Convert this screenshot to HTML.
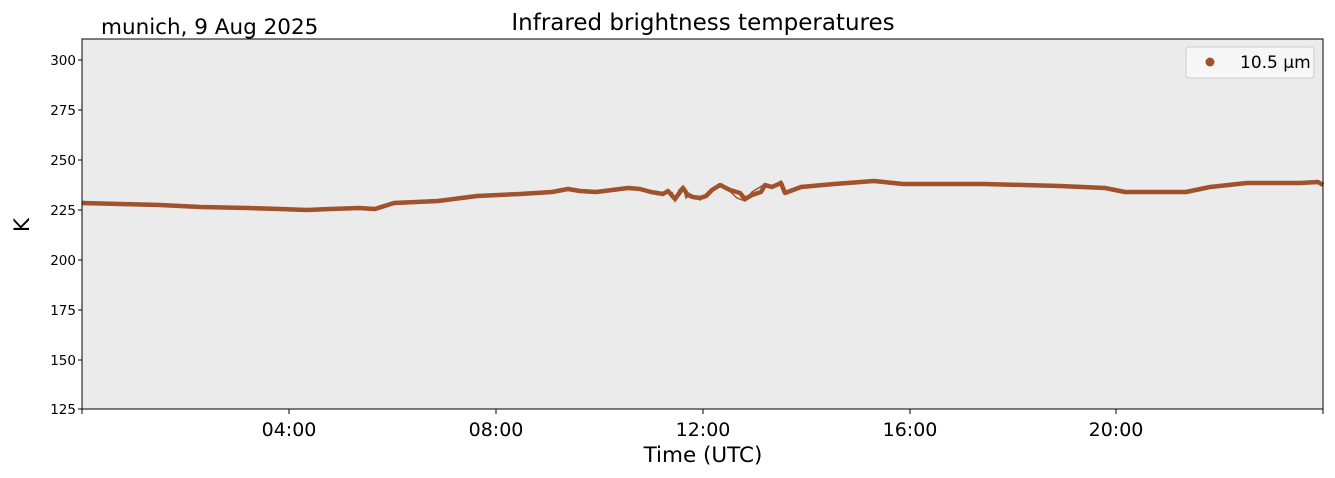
<!DOCTYPE html>
<html><head><meta charset="utf-8"><style>body{margin:0;background:#fff}svg{display:block}</style></head><body>
<svg width="1335" height="478" xmlns="http://www.w3.org/2000/svg" font-family="'DejaVu Sans','Liberation Sans',sans-serif">
<rect width="1335" height="478" fill="#fff"/>
<rect x="82" y="39" width="1241" height="370" fill="#ebebeb"/>
<polyline fill="none" stroke="#a0522d" stroke-width="4.5" stroke-linejoin="round" points="82,203 120,204 160,205 201,207 248,208 280,209 307,210 330,209 359,208 375,209 394,203 438,201 477,196 520,194 552,192 568,189 580,191 596,192 612,190 628,188 640,189 651,192 663,194 668,191 675,199 683,188 688,195 693,197 700,198 706,196 712,190 720,185 730,190 740,193 745,199 752,195 761,192 765,185 772,187 781,183 785,193 801,187 834,184 874,181 903,184 984,184 1024,185 1060,186 1105,188 1125,192 1186,192 1210,187 1247,183 1300,183 1318,182 1323,185"/>
<polyline fill="none" stroke="#a0522d" stroke-width="1.5" points="672,192 675,201 679,190 683,186 686,198 690,194 700,200 712,189 722,184 737,198 745,201 752,192 765,184 770,188 781,181 786,194 792,190"/>
<rect x="82" y="39" width="1241" height="370" fill="none" stroke="#000" stroke-width="1"/>
<g font-size="13.5" text-anchor="end" fill="#000">
<text x="76" y="65">300</text><text x="76" y="115">275</text><text x="76" y="165">250</text><text x="76" y="215">225</text><text x="76" y="265">200</text><text x="76" y="315">175</text><text x="76" y="365">150</text><text x="76" y="414">125</text>
</g>
<g stroke="#000"><line x1="78" x2="82" y1="60" y2="60"/><line x1="78" x2="82" y1="110" y2="110"/><line x1="78" x2="82" y1="160" y2="160"/><line x1="78" x2="82" y1="210" y2="210"/><line x1="78" x2="82" y1="260" y2="260"/><line x1="78" x2="82" y1="310" y2="310"/><line x1="78" x2="82" y1="360" y2="360"/><line x1="78" x2="82" y1="409" y2="409"/>
<line x1="82" x2="82" y1="409" y2="414"/><line x1="289" x2="289" y1="409" y2="414"/><line x1="496" x2="496" y1="409" y2="414"/><line x1="703" x2="703" y1="409" y2="414"/><line x1="910" x2="910" y1="409" y2="414"/><line x1="1116" x2="1116" y1="409" y2="414"/><line x1="1323" x2="1323" y1="409" y2="414"/></g>
<g font-size="19" text-anchor="middle"><text x="289" y="436">04:00</text><text x="496" y="436">08:00</text><text x="703" y="436">12:00</text><text x="910" y="436">16:00</text><text x="1116" y="436">20:00</text></g>
<text x="703" y="462" font-size="21.5" text-anchor="middle">Time (UTC)</text>
<text x="22" y="225" font-size="21.5" text-anchor="middle" transform="rotate(-90 22 225)" dy="7">K</text>
<text x="703" y="30" font-size="23" text-anchor="middle">Infrared brightness temperatures</text>
<text x="101" y="34" font-size="21.5">munich, 9 Aug 2025</text>
<rect x="1186" y="47" width="128" height="31" rx="3" fill="#f7f7f7" stroke="#ccc"/>
<circle cx="1210" cy="62" r="4.5" fill="#a0522d"/>
<text x="1240" y="68" font-size="17">10.5 µm</text>
</svg>
</body></html>
